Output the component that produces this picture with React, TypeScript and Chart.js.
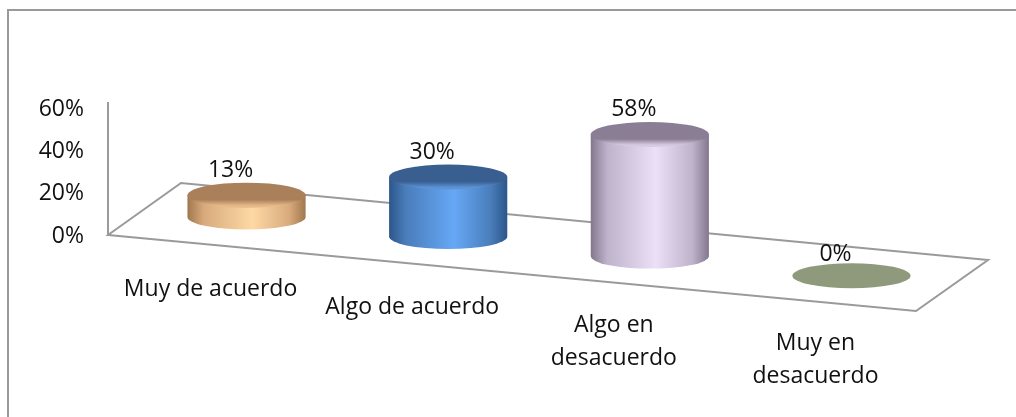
import React, { useEffect, useRef } from "react";
import { Chart, registerables } from "chart.js";

Chart.register(...registerables);

const categories = [["Muy de acuerdo"], ["Algo de acuerdo"], ["Algo en", "desacuerdo"], ["Muy en", "desacuerdo"]];
const values = [13, 30, 58, 0];
const yTicks = [0, 20, 40, 60];
const edgeColors = ["#a0774f", "#2b568a", "#83778d", "#8f9a7c"];
const shoulderColors = ["#d9ab7c", "#4a7dba", "#bfb3cc", "#8f9a7c"];
const midColors = ["#fdd8a5", "#66a8f6", "#ecdff8", "#8f9a7c"];
const capColors = ["#a98059", "#385f90", "#8a7e94", "#8f9a7c"];
const rimColors = ["#e6b98a", "#5b93d6", "#d6c9e2", "#8f9a7c"];

const FAMILY = '"Open Sans", Lato, sans-serif';
const SIZE = 23;
const FONT = `${SIZE}px ${FAMILY}`;
const TEXT = "#111111";
const LINE = "#9a9a9a";

const cylinderPlugin = {
  id: "cylinders",
  beforeDraw(chart: any) {
    const { ctx, canvas } = chart;
    ctx.save();
    ctx.fillStyle = "#ffffff";
    ctx.fillRect(0, 0, canvas.width, canvas.height);
    ctx.strokeStyle = "#9a9a9a";
    ctx.lineWidth = 2;
    ctx.beginPath();
    ctx.moveTo(8, 417);
    ctx.lineTo(8, 10);
    ctx.lineTo(1016, 10);
    ctx.stroke();
    ctx.restore();
  },
  afterDatasetsDraw(chart: any) {
    const { ctx, scales } = chart;
    const xs = scales.x;
    const ys = scales.y;
    const zero = ys.getPixelForValue(0);
    const perPct = zero - ys.getPixelForValue(1);
    const left = chart.chartArea.left;
    const right = chart.chartArea.right;

    ctx.save();
    // floor
    ctx.strokeStyle = LINE;
    ctx.lineWidth = 2;
    ctx.lineJoin = "miter";
    ctx.beginPath();
    ctx.moveTo(left, zero + 1);
    ctx.lineTo(left + 73, zero - 51);
    ctx.lineTo(right, zero + 26);
    ctx.lineTo(right - 72, zero + 77);
    ctx.closePath();
    ctx.stroke();

    const meta = chart.getDatasetMeta(0);
    values.forEach((v, i) => {
      const cx = meta.data[i].x;
      const rx = xs.getPixelForValue(i + 0.293) - cx;
      const ry = 12.5;
      const baseY = zero - 17 + 0.097 * (cx - xs.getPixelForValue(0));
      const h = v > 0 ? perPct * 1.05 * v - 7 : 0;
      const topY = baseY - h;

      if (h > 0) {
        const g = ctx.createLinearGradient(cx - rx, 0, cx + rx, 0);
        g.addColorStop(0, edgeColors[i]);
        g.addColorStop(0.14, shoulderColors[i]);
        g.addColorStop(0.55, midColors[i]);
        g.addColorStop(0.86, shoulderColors[i]);
        g.addColorStop(1, edgeColors[i]);
        ctx.fillStyle = g;
        ctx.beginPath();
        ctx.moveTo(cx - rx, topY);
        ctx.lineTo(cx - rx, baseY);
        ctx.ellipse(cx, baseY, rx, ry, 0, Math.PI, 0, true);
        ctx.lineTo(cx + rx, topY);
        ctx.closePath();
        ctx.fill();

        const t = ctx.createLinearGradient(0, topY - ry, 0, topY + ry);
        t.addColorStop(0, capColors[i]);
        t.addColorStop(0.68, capColors[i]);
        t.addColorStop(0.92, rimColors[i]);
        t.addColorStop(1, rimColors[i]);
        ctx.fillStyle = t;
        ctx.beginPath();
        ctx.ellipse(cx, topY, rx, ry, 0, 0, Math.PI * 2);
        ctx.fill();
      } else {
        ctx.fillStyle = capColors[i];
        ctx.beginPath();
        ctx.ellipse(cx, baseY, rx, ry, 0, 0, Math.PI * 2);
        ctx.fill();
      }

      ctx.fillStyle = TEXT;
      ctx.font = FONT;
      ctx.textAlign = "center";
      ctx.textBaseline = "middle";
      ctx.fillText(`${v}%`, cx - 16, topY - ry - (v > 0 ? 12 : 9));

      const labelX = cx - 36;
      const labelY = zero + 55 + 0.09 * (cx - xs.getPixelForValue(0));
      categories[i].forEach((line, k) => {
        ctx.fillText(line, labelX, labelY + k * 33);
      });
    });
    ctx.restore();
  },
};

export default function App() {
  const ref = useRef<HTMLCanvasElement>(null);
  useEffect(() => {
    const chart = new Chart(ref.current!, {
      type: "bar",
      data: {
        datasets: [
          {
            data: values.map((v, i) => ({ x: i, y: v })),
            backgroundColor: "transparent",
            borderWidth: 0,
          },
        ],
      },
      options: {
        animation: false,
        responsive: false,
        layout: { padding: { left: 0, top: 103, right: 28, bottom: 183 } },
        plugins: { legend: { display: false }, tooltip: { enabled: false } },
        scales: {
          x: { type: "linear", offset: false, min: -0.687, max: 3.677, display: false },
          y: {
            min: 0,
            max: 62,
            afterBuildTicks: (s: any) => {
              s.ticks = yTicks.map((value) => ({ value }));
            },
            afterFit: (s: any) => {
              s.width = 108;
            },
            grid: { display: false, drawTicks: false },
            border: { display: true, color: LINE, width: 2 },
            ticks: {
              padding: 24,
              labelOffset: 2,
              color: TEXT,
              font: { family: FAMILY, size: SIZE },
              callback: (v: any) => `${v}%`,
            },
          },
        },
      },
      plugins: [cylinderPlugin],
    } as any);
    return () => chart.destroy();
  }, []);
  return (
    <div style={{ position: "fixed", left: 0, top: 0, width: 1016, height: 417 }}>
      <canvas ref={ref} width={1016} height={417} style={{ display: "block" }} />
    </div>
  );
}
